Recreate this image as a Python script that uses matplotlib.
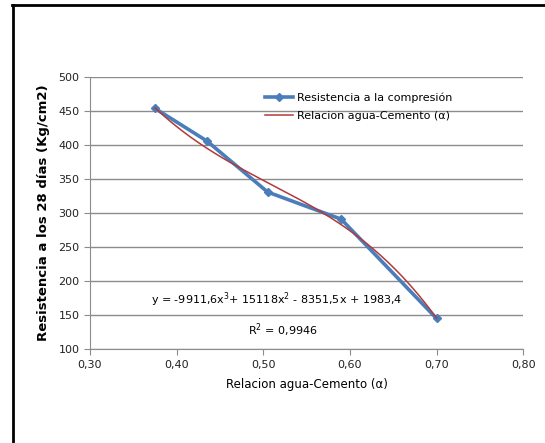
import numpy as np
import matplotlib.pyplot as plt
from matplotlib.lines import Line2D

# data
ratio = [0.375, 0.435, 0.505, 0.59, 0.70]
strength = [454, 406, 331, 291, 145]
# polynomial trendline coefficients shown on the chart (x^3, x^2, x, 1)
coef = [-9911.6, 15118, -8351.5, 1983.4]
r2_text = "R$^2$ = 0,9946"

xticks = [0.3, 0.4, 0.5, 0.6, 0.7, 0.8]
xtick_labels = ["0,30", "0,40", "0,50", "0,60", "0,70", "0,80"]
yticks = [100, 150, 200, 250, 300, 350, 400, 450, 500]

fig = plt.figure(figsize=(5.45, 4.43), dpi=100)
ax = fig.add_axes([0.165, 0.212, 0.795, 0.614])

grid_c = "#8c8c8c"
ax.set_xlim(0.3, 0.8)
ax.set_ylim(100, 500)
ax.set_yticks(yticks)
ax.set_xticks(xticks)
ax.set_xticklabels(xtick_labels)
ax.yaxis.grid(True, color=grid_c, lw=1)
ax.set_axisbelow(True)
for s in ["top", "right"]:
    ax.spines[s].set_visible(False)
for s in ["left", "bottom"]:
    ax.spines[s].set_color(grid_c)
ax.tick_params(axis="both", colors=grid_c, length=4, labelsize=8, labelcolor="#222222")

xs = np.linspace(ratio[0], ratio[-1], 200)
ax.plot(ratio, strength, color="#4a7ebb", lw=2.6, marker="D", ms=4,
        label="Resistencia a la compresión", zorder=3)
ax.plot(xs, np.polyval(coef, xs), color="#b23a3a", lw=1.1,
        label="Relacion agua-Cemento (α)", zorder=4)

leg = ax.legend(loc="upper left", bbox_to_anchor=(0.38, 0.98), frameon=False,
                fontsize=8, handlelength=2.6, labelspacing=0.7, handletextpad=0.3)

eq = "y = -9911,6x$^3$+ 15118x$^2$ - 8351,5x + 1983,4"
ax.text(0.516, 172, eq, ha="center", va="center", fontsize=8)
ax.text(0.523, 128, r2_text, ha="center", va="center", fontsize=8)

ax.set_xlabel("Relacion agua-Cemento (α)", fontsize=8.5, labelpad=6)
ax.set_ylabel("Resistencia a los 28 días (Kg/cm2)", fontsize=9.5,
              fontweight="bold", labelpad=6)

# outer frame (top and left edges of the chart area)
fig.add_artist(Line2D([0.022, 1.0], [0.988, 0.988], color="black", lw=2))
fig.add_artist(Line2D([0.024, 0.024], [0.0, 0.988], color="black", lw=2))

fig.savefig("out.png", dpi=100)
